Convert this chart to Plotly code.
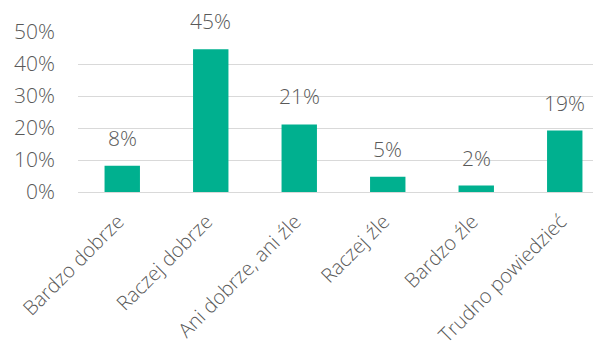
import plotly.graph_objects as go

categories = ["Bardzo dobrze", "Raczej dobrze", "Ani dobrze, ani źle", "Raczej źle", "Bardzo źle", "Trudno powiedzieć"]
values = [8.2, 44.6, 21.1, 4.8, 2.0, 19.2]
labels = ["8%", "45%", "21%", "5%", "2%", "19%"]
ytick_vals = [0, 10, 20, 30, 40, 50]
ytick_text = ["0%", "10%", "20%", "30%", "40%", "50%"]

FONT = "Open Sans"
GRAY = "#595959"

fig = go.Figure()
fig.add_trace(go.Bar(
    x=categories, y=values,
    marker=dict(color="#00B08F", line=dict(width=0)),
    width=0.4,
))
for c, v, t in zip(categories, values, labels):
    fig.add_annotation(x=c, y=v, text=t, showarrow=False, yanchor="bottom",
                       yshift=12, font=dict(family=FONT, size=21, color=GRAY, weight=300))

fig.update_layout(
    width=601, height=349,
    margin=dict(l=70, r=0, t=24, b=165),
    plot_bgcolor="white", paper_bgcolor="white",
    showlegend=False,
    font=dict(family=FONT, size=18, color=GRAY, weight=300),
)
fig.update_xaxes(range=[-0.5, 5.5], tickangle=-45, showgrid=False,
                 tickfont=dict(family=FONT, size=20, color=GRAY, weight=300),
                 showline=False, ticks="", automargin=False,
                 ticklabelstandoff=13, ticklabelshift=-4)
fig.update_yaxes(range=[0, 50], tickvals=ytick_vals, ticktext=ytick_text,
                 showgrid=True, gridcolor="#d9d9d9", gridwidth=1,
                 zeroline=True, zerolinecolor="#d9d9d9", zerolinewidth=1,
                 tickfont=dict(family=FONT, size=21, color=GRAY, weight=300),
                 ticklabelstandoff=22, automargin=False)
fig.write_html("out.html")
